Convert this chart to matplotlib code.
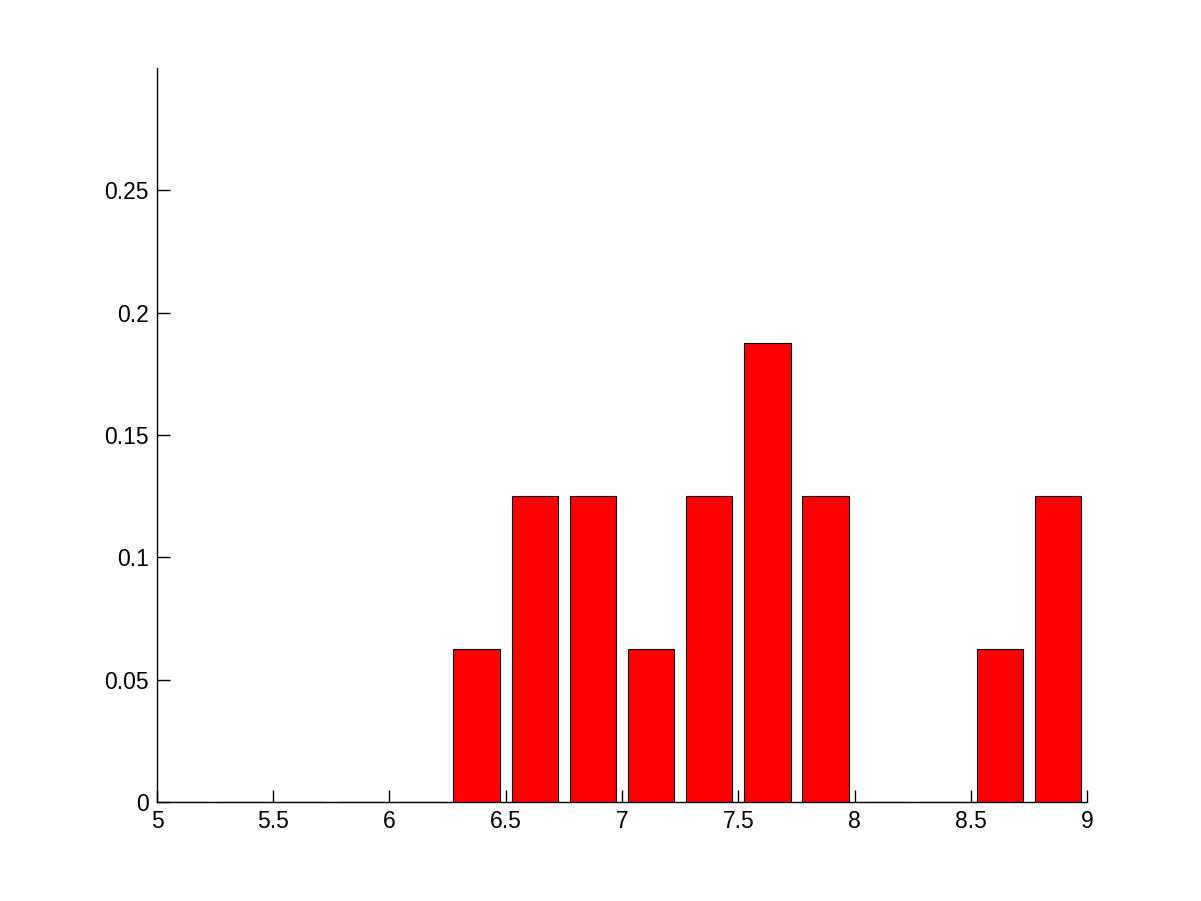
import matplotlib
matplotlib.use("Agg")
import matplotlib.pyplot as plt

# Histogram bin centers (bin width 0.25) and relative frequencies
bin_centers = [5.125, 5.375, 5.625, 5.875, 6.125, 6.375, 6.625, 6.875,
               7.125, 7.375, 7.625, 7.875, 8.125, 8.375, 8.625, 8.875]
freqs = [0, 0, 0, 0, 0, 0.0625, 0.125, 0.125,
         0.0625, 0.125, 0.1875, 0.125, 0, 0, 0.0625, 0.125]

x_ticks = [5, 5.5, 6, 6.5, 7, 7.5, 8, 8.5, 9]
x_tick_labels = ["5", "5.5", "6", "6.5", "7", "7.5", "8", "8.5", "9"]
y_ticks = [0, 0.05, 0.1, 0.15, 0.2, 0.25]
y_tick_labels = ["0", "0.05", "0.1", "0.15", "0.2", "0.25"]

plt.rcParams['font.family'] = ['Liberation Sans', 'DejaVu Sans']

fig = plt.figure(figsize=(12.01, 9.01), dpi=100)
ax = fig.add_axes([0.1307, 0.1099, 0.7744, 0.8147])

ax.bar(bin_centers, freqs, width=0.2, color='#ff0000', edgecolor='black', linewidth=0.8)

ax.set_xlim(5, 9)
ax.set_ylim(0, 0.3)
ax.set_xticks(x_ticks)
ax.set_xticklabels(x_tick_labels)
ax.set_yticks(y_ticks)
ax.set_yticklabels(y_tick_labels)

ax.spines['top'].set_visible(False)
ax.spines['right'].set_visible(False)
ax.spines['left'].set_linewidth(1.0)
ax.spines['bottom'].set_linewidth(1.0)
ax.tick_params(direction='in', length=9, width=1.0, labelsize=16.5, pad=6)

fig.savefig("out.png", dpi=100)
